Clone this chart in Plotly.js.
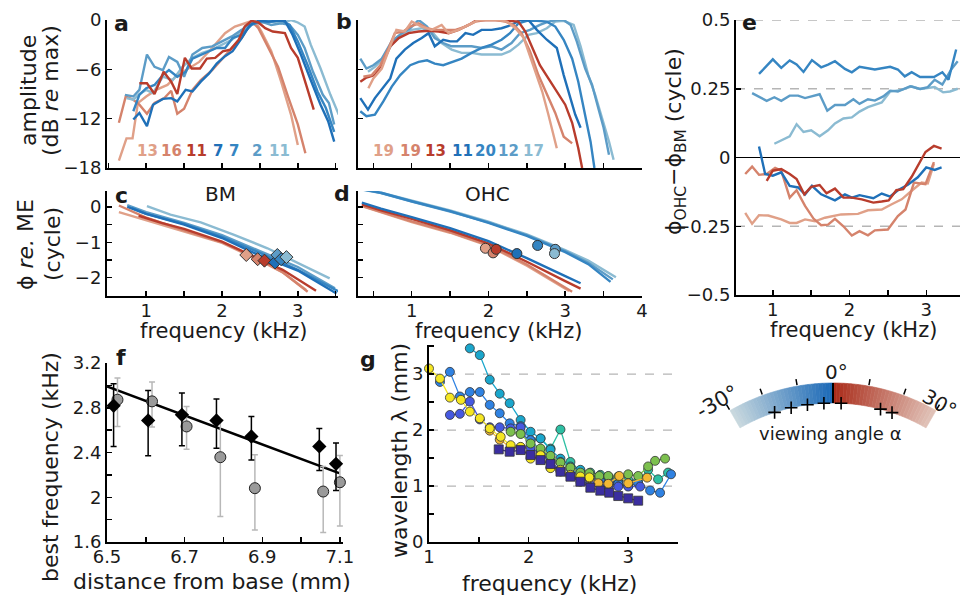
<!DOCTYPE html>
<html><head><meta charset="utf-8">
<script src="https://cdn.plot.ly/plotly-3.0.1.min.js"></script>
<style>html,body{margin:0;padding:0;background:#fff}#plot{width:960px;height:595px}</style>
</head><body><div id="plot"></div>
<script>
// ---------- colours ----------
const C_LSAL='#e0a088', C_SAL='#d5836c', C_RED='#b83c2c', C_DBLUE='#1f70b8', C_MBLUE='#3585c2', C_LBLUE='#5c9cc7', C_LLBLUE='#8bbbd2';

// ---------- panel a: amplitude (dB re max) ----------
const aF_lsal=[0.64,0.74,0.82,0.89,1.0,1.13,1.28,1.41,1.52,1.70,1.87,2.04,2.17,2.30,2.43,2.52,2.65,2.78,2.91,3.0];
const aA_lsal=[-17.1,-14.4,-14.4,-10.1,-9.3,-8.5,-7.9,-6.7,-6.1,-5.1,-3.4,-1.6,-0.8,-0.4,0,-1.4,-3.8,-7.5,-11.5,-15.2];
const aF_sal=[0.64,0.73,0.83,0.91,1.01,1.11,1.24,1.33,1.41,1.50,1.61,1.72,1.87,2.0,2.13,2.26,2.39,2.48,2.61,2.74,2.87,3.0,3.1];
const aA_sal=[-12.5,-9.3,-9.7,-10.3,-11.4,-10.1,-9.5,-8.6,-11.4,-10.8,-8.5,-7.3,-6.1,-4.7,-3.4,-2.2,-0.1,-1.0,-3.4,-5.7,-9.3,-12.7,-16.2];
const aF_red=[0.91,1.01,1.11,1.23,1.33,1.41,1.51,1.60,1.71,1.80,1.91,2.01,2.11,2.22,2.30,2.39,2.48,2.57,2.67,2.83,2.91,3.0,3.11,3.21];
const aA_red=[-7.7,-7.7,-9.0,-6.3,-7.5,-9.0,-4.6,-5.9,-5.9,-4.7,-4.6,-3.8,-3.6,-2.4,-0.8,-0.1,-0.3,-1.0,-1.4,-1.6,-3.4,-4.6,-7.9,-10.9];
const aF_dblue=[0.83,0.91,1.01,1.09,1.22,1.33,1.41,1.52,1.61,1.72,1.83,1.93,2.04,2.14,2.26,2.37,2.48,2.61,2.72,2.83,2.93,3.04,3.17,3.30,3.40,3.48];
const aA_dblue=[-12.1,-11.3,-12.9,-10.3,-9.6,-9.5,-9.9,-8.5,-8.7,-7.5,-6.5,-5.3,-4.4,-3.8,-2.2,-0.6,-0.1,-0.2,-0.1,-0.1,-1.8,-4.2,-7.3,-10.3,-12.3,-14.8];
const aF_mblue=[0.83,0.91,1.0,1.11,1.22,1.30,1.41,1.52,1.61,1.72,1.83,1.93,2.04,2.14,2.26,2.39,2.52,2.65,2.78,2.89,3.0,3.13,3.26,3.37,3.48];
const aA_mblue=[-11.1,-9.1,-8.3,-7.9,-6.7,-6.1,-6.9,-6.3,-4.7,-4.2,-3.8,-3.4,-3.4,-2.2,-1.8,-0.6,-0.1,-0.2,0,-0.6,-2.6,-5.5,-8.7,-10.7,-13.6];
const aF_lblue=[0.72,0.83,0.91,1.01,1.11,1.22,1.30,1.41,1.50,1.61,1.74,1.87,2.0,2.13,2.26,2.39,2.52,2.65,2.78,2.89,3.0,3.09,3.2,3.33,3.41,3.48];
const aA_lblue=[-9.1,-9.3,-8.5,-4.2,-5.7,-6.1,-4.5,-5.1,-6.9,-4.2,-3.4,-3.2,-2.6,-2.0,-1.2,-0.3,-0.2,-0.6,-0.4,-0.6,-1.8,-3.4,-6.3,-9.1,-10.1,-12.7];
const aF_llblue=[0.74,0.83,0.91,1.0,1.09,1.22,1.35,1.48,1.61,1.74,1.87,2.0,2.13,2.26,2.39,2.52,2.65,2.78,2.91,3.0,3.09,3.17,3.30,3.43,3.54];
const aA_llblue=[-9.5,-9.7,-9.0,-8.5,-8.9,-6.9,-7.3,-5.7,-4.6,-4.0,-3.6,-3.0,-2.4,-1.4,-0.5,-0.3,-0.2,-0.4,0,-0.3,-0.8,-3.0,-5.9,-9.1,-11.5];
const countsA=['13','16','11','7','7','2','11'];

// ---------- panel b ----------
const bF_lsal=[0.435,0.50,0.61,0.72,0.80,0.91,1.0,1.13,1.26,1.39,1.48,1.61,1.74,1.87,2.0,2.13,2.24,2.35,2.46,2.52,2.61,2.70,2.78,2.89];
const bA_lsal=[-8.3,-7.1,-5.9,-3.2,-1.2,-1.4,-0.2,-0.8,-1.2,-0.6,-1.6,-1.2,-0.6,0,0,0,-0.2,-1.0,-2.2,-3.8,-6.3,-8.7,-11.5,-15.6];
const bF_sal=[0.37,0.48,0.59,0.70,0.78,0.89,0.98,1.09,1.2,1.30,1.41,1.57,1.70,1.83,1.96,2.09,2.22,2.33,2.43,2.54,2.65,2.76,2.87,2.98,3.09];
const bA_sal=[-6.9,-6.7,-5.5,-3.4,-1.6,-1.4,-0.8,-0.4,-1.0,-1.2,-1.2,-1.2,-0.8,-0.2,0,0,-0.2,-0.6,-1.6,-3.8,-6.7,-9.1,-11.3,-14.2,-15.0];
const bF_red=[0.33,0.41,0.52,0.63,0.72,0.83,0.96,1.09,1.22,1.35,1.48,1.61,1.74,1.85,2.0,2.13,2.26,2.39,2.48,2.57,2.67,2.78,2.89,3.0,3.09,3.17,3.22];
const bA_red=[-7.5,-7.0,-6.7,-5.1,-3.2,-2.2,-1.6,-1.4,-1.3,-1.4,-1.6,-1.2,-0.6,0,0,0,-0.1,-0.2,-1.4,-3.4,-5.5,-7.1,-8.7,-10.3,-12.5,-15.6,-18];
const bF_dblue=[0.33,0.43,0.52,0.63,0.72,0.80,0.91,1.02,1.13,1.22,1.30,1.41,1.50,1.59,1.70,1.80,1.91,2.04,2.17,2.30,2.41,2.52,2.63,2.76,2.89,2.98,3.07,3.13,3.2];
const bA_dblue=[-9.5,-10.9,-9.5,-8.1,-7.1,-4.7,-3.6,-2.8,-2.2,-1.6,-3.2,-2.4,-2.6,-2.6,-1.6,-1.8,-1.2,-1.2,-1.0,-0.6,0,0,-1.2,-2.4,-3.4,-6.7,-9.5,-11.5,-13.1];
const bF_mblue=[0.33,0.41,0.52,0.63,0.74,0.85,0.98,1.09,1.2,1.30,1.41,1.52,1.65,1.78,1.91,2.04,2.17,2.28,2.39,2.5,2.63,2.76,2.87,2.98,3.09,3.17,3.26,3.33,3.38];
const bA_mblue=[-11.1,-11.7,-11.5,-9.9,-8.1,-6.7,-5.5,-5.1,-4.9,-5.3,-5.5,-5.1,-4.7,-4.0,-3.4,-3.0,-2.4,-1.6,-0.4,-0.1,-0.1,-0.2,-0.8,-2.4,-4.7,-7.5,-11.5,-14.8,-18];
const bF_lblue=[0.33,0.41,0.50,0.61,0.74,0.87,0.98,1.09,1.2,1.30,1.41,1.52,1.65,1.78,1.91,2.04,2.17,2.30,2.41,2.54,2.67,2.78,2.89,2.98,3.07,3.15,3.26,3.35,3.43,3.50,3.57];
const bA_lblue=[-4.7,-5.9,-5.5,-4.7,-2.6,-1.6,-1.0,0,-0.8,-2.2,-2.8,-3.2,-3.2,-3.2,-3.4,-3.2,-3.6,-2.8,-1.6,-1.2,-0.6,-0.2,0,0,-0.6,-2.6,-5.9,-7.9,-10.7,-13.1,-16.4];
const bF_llblue=[0.43,0.52,0.63,0.74,0.87,1.0,1.13,1.26,1.39,1.52,1.65,1.78,1.91,2.04,2.17,2.28,2.39,2.52,2.63,2.76,2.87,2.98,3.11,3.20,3.30,3.39,3.48,3.57,3.63];
const bA_llblue=[-6.3,-5.7,-4.7,-3.0,-1.8,-1.2,-1.0,-1.4,-2.8,-3.6,-4.0,-4.0,-4.2,-4.2,-4.2,-3.8,-3.0,-1.8,-1.6,-1.0,-0.2,-0.1,-0.6,-3.2,-6.7,-9.1,-11.9,-14.8,-17];
const countsB=['19','19','13','11','20','12','17'];

// ---------- panel c: BM phase ----------
const cF_lsal=[0.64,1.0,1.5,2.0,2.5,2.8,3.11], cP_lsal=[-0.15,-0.38,-0.68,-1.02,-1.52,-1.85,-2.35];
const cF_sal=[0.64,1.0,1.5,2.0,2.5,2.8,3.13], cP_sal=[0.04,-0.3,-0.66,-1.0,-1.5,-1.85,-2.4];
const cF_red=[0.9,1.2,1.5,2.0,2.5,2.8,3.24], cP_red=[-0.25,-0.45,-0.62,-0.98,-1.48,-1.78,-2.37];
const cF_dblue=[0.75,1.0,1.5,2.0,2.5,3.0,3.51], cP_dblue=[0.0,-0.2,-0.5,-0.88,-1.38,-1.8,-2.45];
const cF_mblue=[0.81,1.0,1.5,2.0,2.5,3.0,3.57], cP_mblue=[-0.03,-0.2,-0.48,-0.85,-1.3,-1.78,-2.43];
const cF_lblue=[0.75,1.0,1.5,2.0,2.5,3.0,3.49], cP_lblue=[0.05,-0.15,-0.45,-0.8,-1.25,-1.7,-2.3];
const cF_llblue=[1.01,1.32,1.72,2.16,2.6,2.96,3.42], cP_llblue=[0.02,-0.22,-0.44,-0.79,-1.17,-1.55,-2.02];
const cBF_f=[2.32,2.47,2.56,2.70,2.73,2.78,2.85], cBF_p=[-1.36,-1.48,-1.52,-1.57,-1.36,-1.48,-1.42];

// ---------- panel d: OHC phase ----------
const dF_mblue=[0.33,0.6,1.0,1.5,2.0,2.5,3.0,3.3,3.59], dP_mblue=[0.51,0.40,0.16,-0.12,-0.45,-0.82,-1.28,-1.62,-2.12];
const dF_lblue=[0.33,0.6,1.0,1.5,2.0,2.5,3.0,3.3,3.62], dP_lblue=[0.50,0.39,0.15,-0.13,-0.44,-0.80,-1.25,-1.58,-2.05];
const dF_llblue=[0.6,1.0,1.5,2.0,2.5,3.0,3.3,3.66], dP_llblue=[0.40,0.17,-0.10,-0.42,-0.78,-1.22,-1.52,-1.99];
const dF_dblue=[0.35,0.6,1.0,1.5,2.0,2.5,3.0,3.2], dP_dblue=[0.12,-0.05,-0.29,-0.6,-0.97,-1.45,-1.96,-2.16];
const dF_red=[0.35,0.6,1.0,1.5,2.0,2.5,3.0,3.2], dP_red=[0.07,-0.1,-0.34,-0.66,-1.03,-1.55,-2.1,-2.31];
const dF_sal=[0.35,0.6,1.0,1.5,2.0,2.5,2.9,3.09], dP_sal=[0.03,-0.14,-0.41,-0.71,-1.08,-1.63,-2.15,-2.4];
const dF_lsal=[0.38,0.6,1.0,1.5,2.0,2.5,2.9,3.05], dP_lsal=[0.0,-0.16,-0.43,-0.73,-1.1,-1.66,-2.2,-2.38];
const dBF_f=[1.96,2.06,2.10,2.37,2.64,2.87,2.86], dBF_p=[-1.17,-1.30,-1.20,-1.32,-1.09,-1.20,-1.32];

// ---------- panel e: phase difference ----------
const eF1=[0.82,1.0,1.11,1.22,1.31,1.40,1.51,1.63,1.72,1.81,1.94,2.03,2.13,2.33,2.53,2.63,2.72,2.81,2.92,3.10,3.21,3.29,3.39];
const eV1=[0.304,0.357,0.326,0.353,0.338,0.311,0.354,0.328,0.338,0.35,0.322,0.31,0.33,0.32,0.33,0.32,0.295,0.31,0.293,0.293,0.31,0.283,0.393];
const eF2=[0.73,0.92,1.02,1.11,1.22,1.33,1.42,1.61,1.71,1.81,1.94,2.05,2.13,2.24,2.33,2.44,2.53,2.63,2.79,2.92,3.02,3.11,3.21,3.33,3.41];
const eV2=[0.234,0.206,0.219,0.206,0.225,0.225,0.216,0.23,0.17,0.191,0.191,0.212,0.195,0.212,0.207,0.222,0.243,0.24,0.259,0.249,0.256,0.283,0.265,0.322,0.35];
const eF3=[1.02,1.22,1.31,1.40,1.50,1.61,1.72,1.81,1.92,2.03,2.13,2.24,2.42,2.53,2.68,2.81,2.92,3.02,3.11,3.22,3.31,3.41];
const eV3=[0.05,0.077,0.121,0.093,0.099,0.077,0.099,0.124,0.142,0.146,0.167,0.183,0.2,0.24,0.246,0.259,0.249,0.252,0.256,0.237,0.24,0.25];
const eF4=[0.82,0.90,1.0,1.11,1.22,1.33,1.42,1.51,1.63,1.72,1.81,1.94,2.03,2.13,2.31,2.42,2.53,2.63,2.76,2.89,3.0,3.11,3.20];
const eV4=[0.04,-0.06,-0.066,-0.054,-0.103,-0.109,-0.134,-0.103,-0.134,-0.146,-0.156,-0.134,-0.146,-0.137,-0.148,-0.131,-0.142,-0.119,-0.099,-0.072,-0.036,-0.045,-0.036];
const eF5=[0.92,1.0,1.11,1.22,1.31,1.41,1.50,1.61,1.70,1.81,1.92,2.03,2.16,2.31,2.42,2.51,2.61,2.70,2.81,2.89,2.99,3.10,3.20];
const eV5=[-0.085,-0.048,-0.042,-0.06,-0.078,-0.134,-0.107,-0.1,-0.13,-0.113,-0.146,-0.146,-0.152,-0.164,-0.16,-0.156,-0.119,-0.115,-0.07,-0.029,0.02,0.042,0.032];
const eF6=[0.64,0.73,0.82,0.92,1.03,1.11,1.22,1.31,1.42,1.53,1.63,1.72,1.81,1.92,2.03,2.13,2.24,2.33,2.50,2.63,2.73,2.84,2.99,3.10];
const eV6=[-0.06,-0.033,-0.063,-0.06,-0.038,-0.048,-0.146,-0.119,-0.176,-0.222,-0.246,-0.244,-0.223,-0.25,-0.284,-0.268,-0.283,-0.265,-0.262,-0.213,-0.189,-0.091,-0.097,-0.017];
const eF7=[0.64,0.73,0.82,0.94,1.11,1.22,1.31,1.42,1.55,1.68,1.89,2.11,2.24,2.42,2.55,2.68,2.81,2.94,3.02,3.10];
const eV7=[-0.201,-0.241,-0.21,-0.211,-0.225,-0.238,-0.238,-0.225,-0.232,-0.219,-0.207,-0.205,-0.192,-0.189,-0.170,-0.152,-0.121,-0.091,-0.094,-0.023];

// ---------- panel f: best frequency vs distance ----------
const fDx=[6.517,6.606,6.693,6.782,6.872,7.047,7.090];
const fDy=[2.818,2.687,2.737,2.687,2.543,2.454,2.299];
const fDup=[0.197,0.268,0.194,0.191,0.179,0.161,0.185];
const fDdn=[0.364,0.317,0.277,0.248,0.209,0.215,0.239];
const fCx=[6.527,6.616,6.705,6.792,6.881,7.057,7.100];
const fCy=[2.872,2.857,2.633,2.358,2.081,2.051,2.134];
const fCup=[0.194,0.173,0.179,0.335,0.298,0.224,0.239];
const fCdn=[0.239,0.230,0.203,0.531,0.374,0.367,0.391];
const fitX=[6.5,7.098], fitY=[2.991,2.215];

// ---------- panel g: wavelength ----------
const gPurpleF=[1.70,1.81,1.92,2.02,2.12,2.22,2.32,2.42,2.52,2.62,2.72,2.81,2.90,3.0,3.10];
const gPurpleL=[1.655,1.613,1.643,1.554,1.464,1.393,1.256,1.167,1.077,0.97,0.917,0.881,0.821,0.78,0.738];
const gBlue1F=[1.21,1.31,1.41,1.51,1.61,1.71,1.82,1.92,2.02,2.12,2.22,2.32,2.42,2.52,2.62,2.72,2.80,2.90,3.0,3.12];
const gBlue1L=[2.27,2.29,2.51,2.19,2.05,2.05,2.03,2.05,1.69,1.58,1.43,1.29,1.2,1.08,1.05,1.02,0.99,0.99,0.99,0.99];
const gBlue2F=[1.11,1.21,1.31,1.41,1.51,1.61,1.71,1.81,1.92,2.02,2.12,2.22,2.32,2.42,2.52,2.62,2.72,2.81,2.90,3.0,3.1,3.22,3.32,3.43];
const gBlue2L=[2.86,3.04,2.6,2.68,2.68,2.45,2.30,2.12,2.07,1.82,1.64,1.51,1.43,1.32,1.15,1.11,1.08,1.05,1.04,1.0,1.05,0.92,0.88,1.21];
const gCyanF=[1.41,1.51,1.61,1.71,1.81,1.92,2.02,2.12,2.22,2.32,2.42,2.52,2.62,2.72,2.80,2.90];
const gCyanL=[3.46,3.34,2.9,2.65,2.48,2.18,1.97,1.85,1.65,1.49,1.35,1.29,1.2,1.15,1.11,1.08];
const gTealF=[1.92,2.02,2.12,2.22,2.32,2.42,2.52,2.62,2.72,2.80,2.90,3.0,3.10,3.20,3.30,3.40];
const gTealL=[1.94,1.82,1.85,1.67,2.01,1.43,1.27,1.24,1.20,1.17,1.12,1.11,1.10,1.29,1.12,1.24];
const gGreenF=[1.82,1.92,2.02,2.12,2.22,2.32,2.42,2.52,2.61,2.71,2.80,2.90,3.0,3.10,3.20,3.27,3.37];
const gGreenL=[1.97,1.93,1.76,1.67,1.54,1.42,1.33,1.24,1.23,1.18,1.18,1.17,1.21,1.18,1.35,1.45,1.49];
const gOrangeF=[1.61,1.71,1.82,1.92,2.02,2.12,2.22,2.32,2.42,2.52,2.61,2.70,2.80,2.91,3.0,3.19];
const gOrangeL=[1.99,1.83,1.69,1.69,1.52,1.52,1.33,1.26,1.18,1.15,1.14,1.05,1.04,1.18,1.05,1.15];
const gYellowF=[1.0,1.11,1.21,1.32,1.41,1.51,1.61,1.72,1.82,1.92,2.02,2.12,2.22,2.32,2.42,2.52,2.61];
const gYellowL=[3.10,2.92,2.58,2.54,2.33,2.21,2.03,1.88,1.73,1.70,1.49,1.55,1.32,1.29,1.2,1.17,1.155];

// ---------- viewing-angle scale ----------
const viewAngles=[-18.3,-13,-7.9,-2.8,2.5,14.8,18.5];
const arcTickAngles=[-30,-20,-10,10,20,30];

// ================= build =================
const FONT='DejaVu Sans';
const W=960,H=595;
const PX=p=>p/W, PY=p=>1-p/H;
const traces=[];
function line(x,y,color,xa,ya,w){traces.push({type:'scatter',mode:'lines',x:x,y:y,xaxis:xa,yaxis:ya,line:{color:color,width:w||2.4},hoverinfo:'skip',showlegend:false,cliponaxis:false});}

// a
[[aF_lsal,aA_lsal,C_LSAL],[aF_sal,aA_sal,C_SAL],[aF_llblue,aA_llblue,C_LLBLUE],[aF_lblue,aA_lblue,C_LBLUE],[aF_mblue,aA_mblue,C_MBLUE],[aF_dblue,aA_dblue,C_DBLUE],[aF_red,aA_red,C_RED]].forEach(s=>line(s[0],s[1],s[2],'x','y'));
// b
[[bF_llblue,bA_llblue,C_LLBLUE],[bF_lblue,bA_lblue,C_LBLUE],[bF_mblue,bA_mblue,C_MBLUE],[bF_dblue,bA_dblue,C_DBLUE],[bF_red,bA_red,C_RED],[bF_sal,bA_sal,C_SAL],[bF_lsal,bA_lsal,C_LSAL]].forEach(s=>line(s[0],s[1],s[2],'x2','y2'));
// c
[[cF_llblue,cP_llblue,C_LLBLUE],[cF_lblue,cP_lblue,C_LBLUE],[cF_mblue,cP_mblue,C_MBLUE],[cF_dblue,cP_dblue,C_DBLUE],[cF_lsal,cP_lsal,C_LSAL],[cF_sal,cP_sal,C_SAL],[cF_red,cP_red,C_RED]].forEach(s=>line(s[0],s[1],s[2],'x3','y3'));
const orderColors=[C_LSAL,C_SAL,C_RED,C_DBLUE,C_LBLUE,C_MBLUE,C_LLBLUE];
traces.push({type:'scatter',mode:'markers',x:cBF_f,y:cBF_p,xaxis:'x3',yaxis:'y3',marker:{symbol:'diamond',size:10,color:orderColors,line:{color:'#333',width:1}},hoverinfo:'skip',showlegend:false,cliponaxis:false});
// d
[[dF_llblue,dP_llblue,C_LLBLUE],[dF_lblue,dP_lblue,C_LBLUE],[dF_mblue,dP_mblue,C_MBLUE],[dF_lsal,dP_lsal,C_LSAL],[dF_sal,dP_sal,C_SAL],[dF_red,dP_red,C_RED],[dF_dblue,dP_dblue,C_DBLUE]].forEach(s=>line(s[0],s[1],s[2],'x4','y4'));
traces.push({type:'scatter',mode:'markers',x:dBF_f,y:dBF_p,xaxis:'x4',yaxis:'y4',marker:{symbol:'circle',size:10,color:[C_LSAL,C_SAL,C_RED,C_DBLUE,C_MBLUE,C_LBLUE,C_LLBLUE],line:{color:'#333',width:1}},hoverinfo:'skip',showlegend:false,cliponaxis:false});
// e
[[eF3,eV3,C_LLBLUE],[eF2,eV2,C_LBLUE],[eF1,eV1,C_MBLUE],[eF7,eV7,C_LSAL],[eF6,eV6,C_SAL],[eF4,eV4,C_DBLUE],[eF5,eV5,C_RED]].forEach(s=>line(s[0],s[1],s[2],'x5','y5'));
// f
line(fitX,fitY,'#000','x6','y6',2.4);
traces.push({type:'scatter',mode:'markers',x:fCx,y:fCy,xaxis:'x6',yaxis:'y6',marker:{symbol:'circle',size:11,color:'#9a9a9a',line:{color:'#222',width:1}},error_y:{type:'data',symmetric:false,array:fCup,arrayminus:fCdn,color:'#b8b8b8',thickness:1.5,width:3},hoverinfo:'skip',showlegend:false,cliponaxis:false});
traces.push({type:'scatter',mode:'markers',x:fDx,y:fDy,xaxis:'x6',yaxis:'y6',marker:{symbol:'diamond',size:11,color:'#000'},error_y:{type:'data',symmetric:false,array:fDup,arrayminus:fDdn,color:'#000',thickness:1.5,width:3},hoverinfo:'skip',showlegend:false,cliponaxis:false});
// g
function gser(x,y,c,sym){traces.push({type:'scatter',mode:'lines+markers',x:x,y:y,xaxis:'x7',yaxis:'y7',line:{color:c,width:1.3},marker:{symbol:sym||'circle',size:9,color:c,line:{color:'#333',width:0.8}},hoverinfo:'skip',showlegend:false,cliponaxis:false});}
gser(gTealF,gTealL,'#2dbfa3');
gser(gCyanF,gCyanL,'#1aa6cc');
gser(gBlue2F,gBlue2L,'#2f82e2');
gser(gBlue1F,gBlue1L,'#4659e0');
gser(gGreenF,gGreenL,'#7cc04e');
gser(gOrangeF,gOrangeL,'#f3b834');
gser(gYellowF,gYellowL,'#f5e622');
gser(gPurpleF,gPurpleL,'#3b2ea0','square');

// viewing-angle arc (pixel-coordinate overlay axes)
const CX=833, CY=589, R_OUT=206, R_IN=186;
const pt=(deg,r)=>[CX+r*Math.sin(deg*Math.PI/180), CY-r*Math.cos(deg*Math.PI/180)];
function lerp(c1,c2,t){return 'rgb('+c1.map((v,i)=>Math.round(v+(c2[i]-v)*t)).join(',')+')';}
const shapes=[];
for(let a=-30;a<30;a+=1){
  const col = a<0 ? lerp([200,216,222],[22,102,182],(a+30)/30) : lerp([170,44,26],[226,198,188],(a)/30);
  const p1=pt(a,R_OUT),p2=pt(a+1,R_OUT),p3=pt(a+1,R_IN),p4=pt(a,R_IN);
  shapes.push({type:'path',xref:'x8',yref:'y8',path:`M${p1[0]},${p1[1]} L${p2[0]},${p2[1]} L${p3[0]},${p3[1]} L${p4[0]},${p4[1]} Z`,fillcolor:col,line:{color:col,width:0.6},layer:'below'});
}
{const a=pt(0,R_IN),b=pt(0,R_OUT);shapes.push({type:'line',xref:'x8',yref:'y8',x0:a[0],y0:a[1],x1:b[0],y1:b[1],line:{color:'#000',width:2},layer:'below'});}
arcTickAngles.forEach(d=>{const a=pt(d,R_OUT+1),b=pt(d,R_OUT+7);shapes.push({type:'line',xref:'x8',yref:'y8',x0:a[0],y0:a[1],x1:b[0],y1:b[1],line:{color:'#000',width:1.5},layer:'below'});});
traces.push({type:'scatter',mode:'markers',x:viewAngles.map(d=>pt(d,R_IN)[0]),y:viewAngles.map(d=>pt(d,R_IN)[1]),xaxis:'x8',yaxis:'y8',marker:{symbol:'cross-thin',size:9,color:'#000',line:{color:'#000',width:1.6}},hoverinfo:'skip',showlegend:false,cliponaxis:false});

// dashed reference lines
[0.5,0.25,-0.25].forEach(v=>shapes.push({type:'line',xref:'x5 domain',yref:'y5',x0:0,x1:1,y0:v,y1:v,line:{color:'#b5b5b5',width:1.3,dash:'dash'},layer:'below'}));
shapes.push({type:'line',xref:'x5 domain',yref:'y5',x0:0,x1:1,y0:0,y1:0,line:{color:'#000',width:1},layer:'below'});
[1,2,3].forEach(v=>shapes.push({type:'line',xref:'x7 domain',yref:'y7',x0:0,x1:1,y0:v,y1:v,line:{color:'#b5b5b5',width:1.3,dash:'dash'},layer:'below'}));

function axis(domain,range,vals,texts,anchor,extra){
  return Object.assign({domain:domain,range:range,tickmode:'array',tickvals:vals,ticktext:texts,ticks:'inside',ticklen:5,tickwidth:1.5,tickcolor:'#000',showline:true,linecolor:'#000',linewidth:2,showgrid:false,zeroline:false,tickfont:{family:FONT,size:18,color:'#1a1a1a'},anchor:anchor,fixedrange:true},extra||{});
}
const XS={ticklabelstandoff:-3};
const xAB=[0.5,1,1.5,2,2.5,3,3.5], xBD=[0.5,1,1.5,2,2.5,3,3.5,4];
const blank=n=>Array(n).fill(' ');
const phV=[0.5,0,-0.5,-1,-1.5,-2];

const annotations=[];
function ann(text,x,y,size,opt){annotations.push(Object.assign({text:text,x:PX(x),y:PY(y),xref:'paper',yref:'paper',showarrow:false,xanchor:'center',yanchor:'middle',font:{family:FONT,size:size,color:'#1a1a1a'}},opt||{}));}
// panel letters
[['a',121,24],['b',344,22],['c',121,196],['d',342,194],['e',749,23],['f',121,357],['g',368,359]].forEach(l=>ann('<b>'+l[0]+'</b>',l[1],l[2],22));
ann('BM',220,194,20); ann('OHC',487,194,20);
// counts
const axA=[147.5,171.5,196,217.5,234,256.5,279], axB=[383,410,435,462,485,508,533];
const colA=[C_LSAL,C_SAL,C_RED,C_DBLUE,C_MBLUE,C_LBLUE,C_LLBLUE];
countsA.forEach((t,i)=>ann('<b>'+t+'</b>',axA[i],151,15,{font:{family:FONT,size:15,color:colA[i]}}));
countsB.forEach((t,i)=>ann('<b>'+t+'</b>',axB[i],151,15,{font:{family:FONT,size:15,color:colA[i]}}));
// axis titles
ann('amplitude',28,91,22,{textangle:-90});
ann('(dB <i>re</i> max)',50,91,22,{textangle:-90});
ann('ϕ <i>re.</i> ME',25,245,22,{textangle:-90});
ann('(cycle)',52,244,22,{textangle:-90});
ann('frequency (kHz)',223,331,21);
ann('frequency (kHz)',498,331,21);
ann('frequency (kHz)',853,330,21);
ann('ϕ<sub>OHC</sub>−ϕ<sub>BM</sub> (cycle)',675,142,22,{textangle:-90});
ann('best frequency (kHz)',50,467,22,{textangle:-90});
ann('distance from base (mm)',212,581,22);
ann('wavelength λ (mm)',399,451,22,{textangle:-90});
ann('frequency (kHz)',549,583,22);
// arc labels
ann('0°',836,372,20);
ann('-30°',717,402,21,{textangle:-30});
ann('30°',939,403,20,{textangle:30});
ann('viewing angle α',830,433,18);

const layout={
  width:W,height:H,margin:{l:0,r:0,t:0,b:0},paper_bgcolor:'#fff',plot_bgcolor:'rgba(0,0,0,0)',showlegend:false,
  font:{family:FONT,color:'#1a1a1a'},
  xaxis: axis([PX(107),PX(338)],[0.483,3.53],xAB,blank(7),'y'),
  yaxis: axis([PY(168),PY(20)],[-18,0],[0,-6,-12,-18],['0','−6','−12','−18'],'x'),
  xaxis2:axis([PX(358),PX(642)],[0.3,4.0],xBD,blank(8),'y2'),
  yaxis2:axis([PY(168),PY(20)],[-18,0],[0,-6,-12,-18],blank(4),'x2'),
  xaxis3:axis([PX(107),PX(338)],[0.483,3.53],[1,1.5,2,2.5,3,3.5],['1',' ','2',' ','3',' '],'y3',XS),
  yaxis3:axis([PY(296),PY(191)],[-2.52,0.45],phV,[' ','0',' ','−1',' ','−2'],'x3'),
  xaxis4:axis([PX(358),PX(642)],[0.3,4.0],xBD,[' ','1',' ','2',' ','3',' ','4'],'y4',XS),
  yaxis4:axis([PY(296),PY(191)],[-2.52,0.45],phV,blank(6),'x4'),
  xaxis5:axis([PX(736),1],[0.52,3.44],[1,1.5,2,2.5,3],['1',' ','2',' ','3'],'y5',XS),
  yaxis5:axis([PY(295),PY(20)],[-0.5,0.5],[0.5,0.25,0,-0.25,-0.5],['0.5','0.25','0','−0.25','−0.5'],'x5'),
  xaxis6:axis([PX(107),PX(343)],[6.5,7.108],[6.5,6.6,6.7,6.8,6.9,7.0,7.1],['6.5',' ','6.7',' ','6.9',' ','7.1'],'y6',XS),
  yaxis6:axis([PY(542),PY(363)],[1.6,3.2],[1.6,1.8,2.0,2.2,2.4,2.6,2.8,3.0,3.2],['1.6',' ','2',' ','2.4',' ','2.8',' ','3.2'],'x6'),
  xaxis7:axis([PX(429),PX(678)],[1,3.5],[1,1.5,2,2.5,3,3.5],['1',' ','2',' ','3',' '],'y7',XS),
  yaxis7:axis([PY(542),PY(345)],[0,3.52],[0,0.5,1,1.5,2,2.5,3,3.5],['0',' ','1',' ','2',' ','3',' '],'x7'),
  xaxis8:{domain:[0,1],range:[0,W],visible:false,fixedrange:true,anchor:'y8'},
  yaxis8:{domain:[0,1],range:[H,0],visible:false,fixedrange:true,anchor:'x8'},
  shapes:shapes,annotations:annotations
};
Plotly.newPlot('plot',traces,layout,{displayModeBar:false,staticPlot:true});
</script></body></html>
